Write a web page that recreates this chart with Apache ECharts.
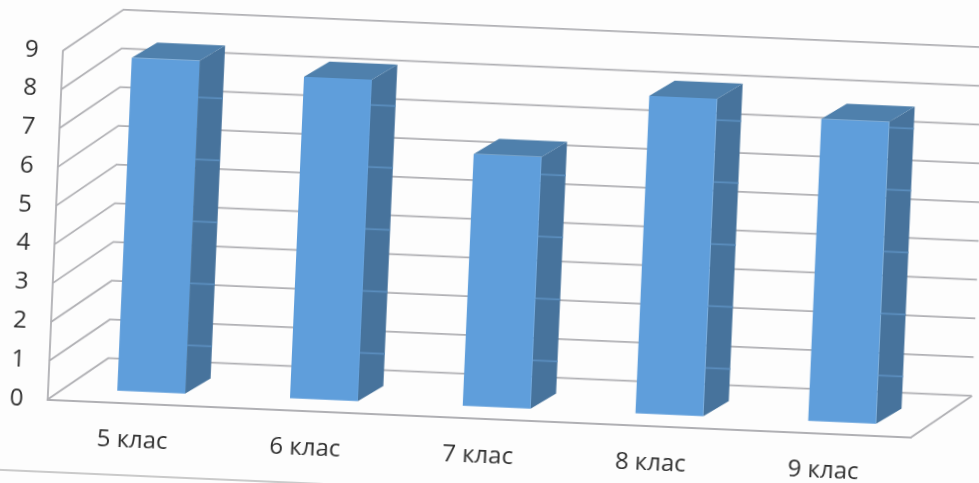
<!DOCTYPE html>
<html>
<head>
<meta charset="utf-8">
<style>
html,body{margin:0;padding:0;width:979px;height:483px;overflow:hidden;background:#fdfdfd}
#chart{position:absolute;left:-50px;top:-50px;width:1079px;height:583px;transform:rotate(2.5deg);transform-origin:50% 50%}
</style>
<script src="https://cdn.jsdelivr.net/npm/echarts@6/dist/echarts.min.js"></script>
</head>
<body>
<div id="chart"></div>
<script>
const categories = ['5 клас', '6 клас', '7 клас', '8 клас', '9 клас'];
const values = [8.6, 8.3, 6.5, 8.2, 7.8];
const yTicks = [0, 1, 2, 3, 4, 5, 6, 7, 8, 9];
const sideBands = [0.83, 2.43, 4.03, 5.63, 7.23];

const DEPTH = [59, -44];
const BAR_RATIO = 0.393;
const BAR_SHIFT = 1;
const BAR_DEPTH_START = 0.27;
const BAR_DEPTH_X = 0.42;
const BAR_DEPTH_Y = 0.37;
const LINE = '#b0b0b4';
const FRONT = '#5f9edb';
const TOP = '#4f80ac';
const SIDE = '#47739c';
const STRIPE = '#5a8dbd';
const TEXT = '#303030';

const chart = echarts.init(document.getElementById('chart'));
chart.setOption({
  animation: false,
  backgroundColor: 'transparent',
  textStyle: { fontFamily: '"Open Sans", "Noto Sans", sans-serif' },
  grid: { left: 104.7, top: 119.8, width: 864.5, height: 348.9 },
  xAxis: {
    type: 'category', data: categories,
    axisTick: { show: false },
    axisLine: { show: true, lineStyle: { color: LINE, width: 1.8 } },
    axisLabel: { margin: 25, fontSize: 24, color: TEXT, interval: 0 },
    splitLine: { show: false }
  },
  yAxis: {
    type: 'value', min: 0, max: 9, interval: 1,
    axisTick: { show: false },
    axisLine: { show: true, lineStyle: { color: LINE, width: 1.8 } },
    axisLabel: { margin: 24, fontSize: 24, color: TEXT, customValues: yTicks },
    splitLine: { show: false }
  },
  graphic: [{
    type: 'line', silent: true,
    shape: { x1: 50, y1: 541, x2: 520, y2: 541 },
    style: { stroke: '#b8b8b8', lineWidth: 1.6 }
  }],
  series: [
    {
      type: 'custom', clip: false, silent: true, z: 1,
      data: yTicks.map(v => [0, v]),
      encode: { x: 0, y: 1 },
      renderItem(params, api) {
        const cs = params.coordSys;
        const y = api.coord([0, api.value(1)])[1];
        const left = cs.x, right = cs.x + cs.width;
        const children = [{
          type: 'polyline',
          shape: { points: [[left, y], [left + DEPTH[0], y + DEPTH[1]], [right + DEPTH[0], y + DEPTH[1]]] },
          style: { stroke: LINE, lineWidth: 1.8, fill: null }
        }];
        if (api.value(1) === 0) {
          children.push({
            type: 'line',
            shape: { x1: right, y1: y, x2: right + DEPTH[0], y2: y + DEPTH[1] },
            style: { stroke: LINE, lineWidth: 1.8 }
          });
        }
        return { type: 'group', children };
      }
    },
    {
      type: 'custom', clip: false, silent: true, z: 2,
      data: values.map((v, i) => [i, v]),
      encode: { x: 0, y: 1 },
      renderItem(params, api) {
        const c = api.coord([api.value(0), api.value(1)]);
        const base = api.coord([api.value(0), 0]);
        const w = api.size([1, 0])[0] * BAR_RATIO;
        const ox = DEPTH[0] * BAR_DEPTH_START + BAR_SHIFT, oy = DEPTH[1] * BAR_DEPTH_START;
        const dx = DEPTH[0] * BAR_DEPTH_X, dy = DEPTH[1] * BAR_DEPTH_Y;
        const x0 = c[0] - w / 2 + ox, x1 = x0 + w;
        const yT = c[1] + oy, yB = base[1] + oy;
        const children = [
          { type: 'polygon', shape: { points: [[x1, yT], [x1 + dx, yT + dy], [x1 + dx, yB + dy], [x1, yB]] }, style: { fill: SIDE } }
        ];
        // faint lighter bands on the side face, as in the reference
        const slope = dy / dx;
        sideBands.forEach(t => {
          const wy = api.coord([0, t])[1] + oy + dy;
          const a = Math.max(x1, x1 + (wy - yT) / slope);
          const b = Math.min(x1 + dx, x1 + (wy - yB) / slope);
          if (b - a > 0.5) {
            children.push({ type: 'line', shape: { x1: a, y1: wy, x2: b, y2: wy }, style: { stroke: STRIPE, lineWidth: 1.8 } });
          }
        });
        children.push(
          { type: 'polygon', shape: { points: [[x0, yT], [x0 + dx, yT + dy], [x1 + dx, yT + dy], [x1, yT]] }, style: { fill: TOP } },
          { type: 'rect', shape: { x: x0, y: yT, width: w, height: yB - yT }, style: { fill: FRONT } }
        );
        return { type: 'group', children };
      }
    }
  ]
});
</script>
</body>
</html>
